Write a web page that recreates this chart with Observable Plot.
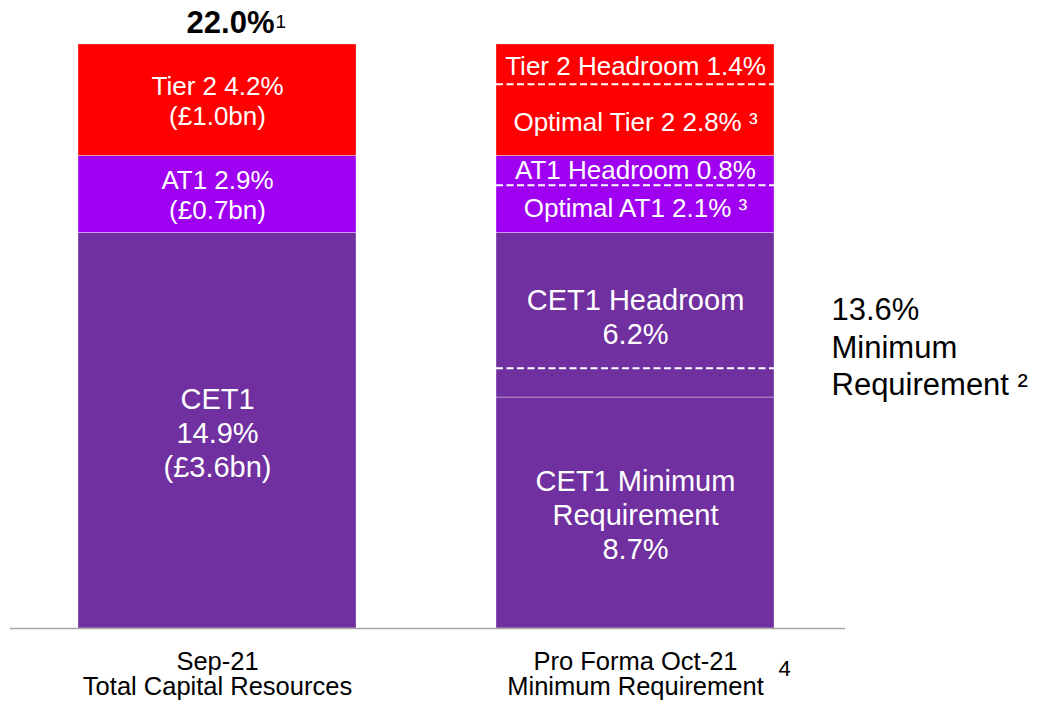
<!DOCTYPE html>
<html><head><meta charset="utf-8">
<script src="https://cdn.jsdelivr.net/npm/d3@7"></script>
<script src="https://cdn.jsdelivr.net/npm/@observablehq/plot@0.6"></script>
<style>
body{margin:0;background:#fff;font-family:"Liberation Sans",Arial,sans-serif}
</style>
</head><body><div id="chart"></div>
<script>
// ---- data ----
const bars = ["Sep-21", "Pro Forma Oct-21"];
const barCaptions = ["Sep-21\nTotal Capital Resources", "Pro Forma Oct-21\nMinimum Requirement"];
const captionNotes = ["", "4"];

const leftGroups = ["CET1", "AT1", "Tier 2"];
const leftValues = [14.9, 2.9, 4.2];
const leftLabels = ["CET1\n14.9%\n(£3.6bn)", "AT1 2.9%\n(£0.7bn)", "Tier 2 4.2%\n(£1.0bn)"];

const rightGroups = ["CET1", "CET1 Headroom", "AT1", "AT1", "Tier 2", "Tier 2"];
const rightValues = [8.7, 6.2, 2.1, 0.8, 2.8, 1.4];
const rightLabels = ["CET1 Minimum\nRequirement\n8.7%", "CET1 Headroom\n6.2%", "Optimal AT1 2.1% ³",
                     "AT1 Headroom 0.8%", "Optimal Tier 2 2.8% ³", "Tier 2 Headroom 1.4%"];

const dashedLevels = [9.8, 16.7, 20.5];
const totalLabel = "22.0%";
const totalNote = "1";
const minReqLabel = "13.6%\nMinimum\nRequirement ²";

const colors = {"CET1": "#7030A0", "CET1 Headroom": "#7030A0", "AT1": "#A000F2", "Tier 2": "#FF0000"};

// ---- build tables ----
function stack(bar, groups, values, labels, side) {
  let acc = 0;
  return values.map((v, i) => {
    const y1 = acc; acc += v;
    return {bar, side, group: groups[i], value: v, y1, y2: acc, mid: (y1 + acc) / 2, label: labels[i],
            big: groups[i].startsWith("CET1")};
  });
}
const leftSeg = stack(bars[0], leftGroups, leftValues, leftLabels, "L");
const rightSeg = stack(bars[1], rightGroups, rightValues, rightLabels, "R");

// merge consecutive same-group segments into drawn blocks
function blocks(segs) {
  const out = [];
  for (const s of segs) {
    const last = out[out.length - 1];
    if (last && last.group === s.group) last.y2 = s.y2;
    else out.push({bar: s.bar, group: s.group, y1: s.y1, y2: s.y2});
  }
  return out;
}
const rects = [...blocks(leftSeg), ...blocks(rightSeg)];
const labels = [...leftSeg, ...rightSeg];
const total = d3.sum(leftValues);

const font = "'Liberation Sans', Arial, sans-serif";

const chart = Plot.plot({
  width: 1037,
  height: 705,
  marginLeft: 10,
  marginRight: 192,
  marginTop: 44,
  marginBottom: 77,
  style: {fontFamily: font, background: "#fff"},
  x: {domain: bars, range: [77, 775], paddingInner: 0.334, paddingOuter: 0, axis: null},
  y: {domain: [0, 22], axis: null},
  color: {type: "identity"},
  marks: [
    Plot.barY(rects, {x: "bar", y1: "y1", y2: "y2", fill: d => colors[d.group],
      stroke: "white", strokeOpacity: 0.35, strokeWidth: 1, inset: 0}),
    Plot.tickY(dashedLevels.map(v => ({bar: bars[1], v})), {x: "bar", y: "v",
      stroke: "white", strokeWidth: 2, strokeDasharray: "7,3.5"}),
    Plot.ruleY([0], {stroke: "#A6A6A6", strokeWidth: 1.5}),
    Plot.text(labels.filter(d => d.big), {x: "bar", y: "mid", text: "label",
      fill: "white", fontSize: 29, lineHeight: 1.17, lineAnchor: "middle", dy: 1}),
    Plot.text(labels.filter(d => !d.big && d.side === "L"), {x: "bar", y: "mid", text: "label",
      fill: "white", fontSize: 26, lineHeight: 1.15, lineAnchor: "middle"}),
    Plot.text(labels.filter(d => !d.big && d.side === "R"), {x: "bar", y: "mid", text: "label",
      fill: "white", fontSize: 26, lineAnchor: "middle", dy: 4}),
    // total on top of first bar
    Plot.text([total], {x: () => bars[0], y: d => d, text: () => totalLabel,
      fontSize: 31, fontWeight: "bold", fill: "black", textAnchor: "end", lineAnchor: "bottom", dx: 57, dy: -12}),
    Plot.text([total], {x: () => bars[0], y: d => d, text: () => totalNote,
      fontSize: 19, fill: "black", textAnchor: "start", lineAnchor: "bottom", dx: 58, dy: -17}),
    // category captions
    Plot.text(bars, {x: d => d, frameAnchor: "bottom", text: (d, i) => barCaptions[i],
      fontSize: 25.5, fill: "black", lineHeight: 1.0, lineAnchor: "top", dy: 23}),
    Plot.text(bars, {x: d => d, frameAnchor: "bottom", text: (d, i) => captionNotes[i],
      fontSize: 22, fill: "black", lineAnchor: "middle", dx: 149, dy: 40}),
    // minimum requirement annotation
    Plot.text([minReqLabel], {x: () => bars[1], frameAnchor: "top", text: d => d,
      fontSize: 31, fill: "black", textAnchor: "start", lineAnchor: "middle", lineHeight: 1.22,
      dx: 196, dy: 301})
  ]
});
document.getElementById("chart").appendChild(chart);
</script>
</body></html>
